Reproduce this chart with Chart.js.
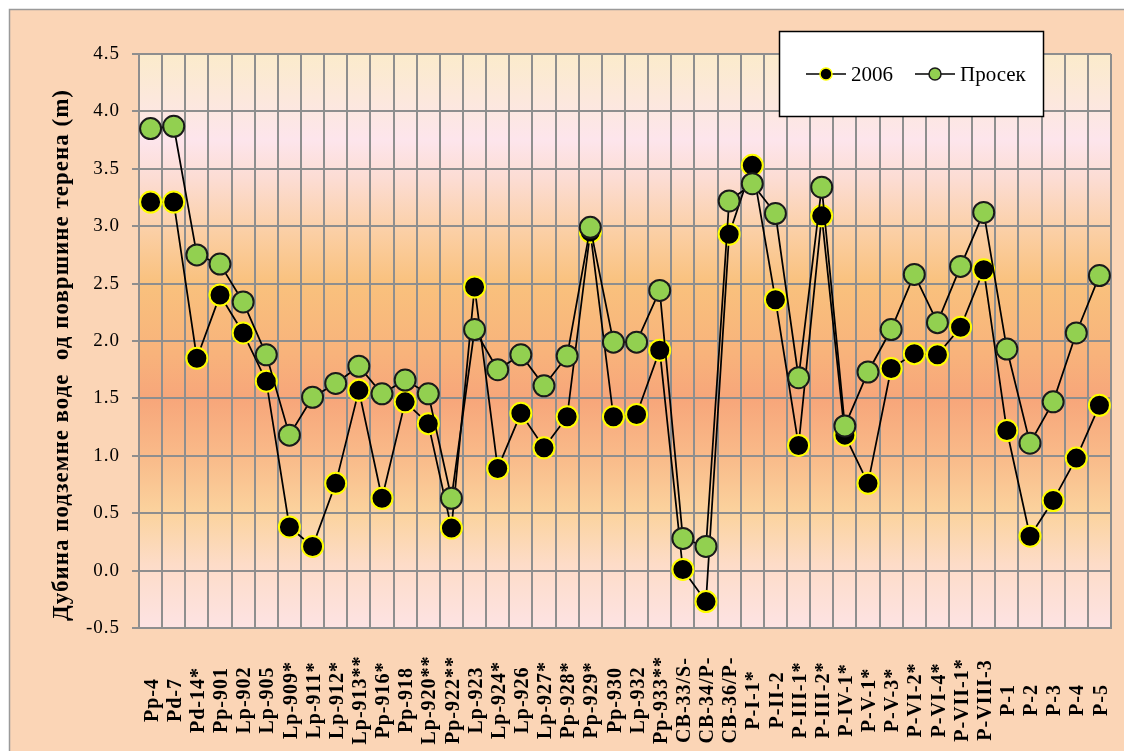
<!DOCTYPE html>
<html>
<head>
<meta charset="utf-8">
<script src="https://cdn.jsdelivr.net/npm/chart.js@4.4.1/dist/chart.umd.min.js"></script>
<style>
  html, body { margin: 0; padding: 0; background: #ffffff; }
  #wrap { width: 1124px; height: 751px; position: relative; }
</style>
</head>
<body>
<div id="wrap"><canvas id="chart" width="1124" height="751"></canvas></div>
<script>
// Observation wells (piezometers)
const wells = [
  'Pp-4', 'Pd-7', 'Pd-14*', 'Pp-901', 'Lp-902', 'Lp-905', 'Lp-909*', 'Lp-911*', 'Lp-912*',
  'Lp-913**', 'Pp-916*', 'Pp-918', 'Lp-920**', 'Pp-922**', 'Lp-923', 'Lp-924*', 'Lp-926',
  'Lp-927*', 'Pp-928*', 'Pp-929*', 'Pp-930', 'Lp-932', 'Pp-933**', 'CB-33/S-', 'CB-34/P-',
  'CB-36/P-', 'P-I-1*', 'P-II-2', 'P-III-1*', 'P-III-2*', 'P-IV-1*', 'P-V-1*', 'P-V-3*',
  'P-VI-2*', 'P-VI-4*', 'P-VII-1*', 'P-VIII-3', 'P-1', 'P-2', 'P-3', 'P-4', 'P-5'
];

// Groundwater depth below ground surface in 2006 (m)
const depth2006 = [
  3.21, 3.21, 1.85, 2.40, 2.07, 1.65, 0.38, 0.21, 0.76,
  1.57, 0.63, 1.47, 1.28, 0.37, 2.47, 0.89, 1.37,
  1.07, 1.34, 2.95, 1.34, 1.36, 1.92, 0.01, -0.27,
  2.93, 3.53, 2.36, 1.09, 3.09, 1.18, 0.76, 1.76,
  1.89, 1.88, 2.12, 2.62, 1.22, 0.30, 0.61, 0.98, 1.44
];

// Mean groundwater depth (m)
const depthMean = [
  3.85, 3.87, 2.75, 2.67, 2.34, 1.88, 1.18, 1.51, 1.63,
  1.78, 1.54, 1.66, 1.54, 0.63, 2.10, 1.75, 1.88,
  1.61, 1.87, 2.99, 1.99, 1.99, 2.44, 0.28, 0.21,
  3.22, 3.37, 3.11, 1.68, 3.34, 1.26, 1.73, 2.10,
  2.58, 2.16, 2.65, 3.12, 1.93, 1.11, 1.47, 2.07, 2.57
];

const seriesNames = ['2006', 'Просек'];
const yAxisTitle = 'Дубина подземне воде  од површине терена (m)';

const SERIF = '"Liberation Serif", "Times New Roman", serif';

// Page frame and the banded background behind the plot
const backdrop = {
  id: 'backdrop',
  beforeDraw(chart) {
    const { ctx, chartArea: a } = chart;
    ctx.save();
    ctx.fillStyle = '#ffffff';
    ctx.fillRect(0, 0, chart.width, chart.height);
    ctx.fillStyle = '#fbd5b6';
    ctx.fillRect(9, 9, chart.width, chart.height);
    ctx.strokeStyle = '#9a9a9a';
    ctx.lineWidth = 1.5;
    ctx.strokeRect(9.5, 9.5, chart.width + 10, chart.height + 10);

    const g = ctx.createLinearGradient(0, a.top, 0, a.bottom);
    g.addColorStop(0.00, '#fbebcb');
    g.addColorStop(0.15, '#fde5ec');
    g.addColorStop(0.22, '#fcdcd2');
    g.addColorStop(0.31, '#fbcfa5');
    g.addColorStop(0.40, '#f9c17d');
    g.addColorStop(0.52, '#f8b37b');
    g.addColorStop(0.60, '#f7a67a');
    g.addColorStop(0.70, '#f9ba89');
    g.addColorStop(0.80, '#fbd39e');
    g.addColorStop(0.89, '#fddcc8');
    g.addColorStop(1.00, '#fde3e3');
    ctx.fillStyle = g;
    ctx.fillRect(a.left, a.top, a.right - a.left, a.bottom - a.top);
    ctx.restore();
    // slightly spaced lettering for the axis numbers
    ctx.letterSpacing = '1px';
  }
};

// Rotated well names, axis title and the boxed legend
const annotations = {
  id: 'annotations',
  afterDraw(chart) {
    const { ctx } = chart;
    const xs = chart.scales.x;
    ctx.save();
    ctx.letterSpacing = '1px';
    ctx.fillStyle = '#000000';
    ctx.font = 'bold 20px ' + SERIF;
    ctx.textAlign = 'center';
    ctx.textBaseline = 'middle';
    xs.getLabels().forEach((name, i) => {
      const px = xs.getPixelForTick(i) + 2;
      ctx.save();
      ctx.translate(px, 700);
      ctx.rotate(-Math.PI / 2);
      ctx.fillText(name, 0, 0);
      ctx.restore();
    });

    ctx.font = 'bold 23px ' + SERIF;
    ctx.save();
    ctx.translate(62, 355);
    ctx.rotate(-Math.PI / 2);
    ctx.fillText(yAxisTitle, 0, 0);
    ctx.restore();

    // legend box
    ctx.letterSpacing = '0px';
    const bx = 779, by = 31, bw = 264, bh = 85;
    ctx.fillStyle = '#ffffff';
    ctx.fillRect(bx, by, bw, bh);
    ctx.strokeStyle = '#000000';
    ctx.lineWidth = 1.5;
    ctx.strokeRect(bx + 0.5, by + 0.5, bw, bh);

    const slots = [806, 915];
    const ly = 74;
    ctx.font = '21px ' + SERIF;
    ctx.textAlign = 'left';
    ctx.textBaseline = 'middle';
    chart.data.datasets.forEach((ds, i) => {
      const x0 = slots[i];
      ctx.strokeStyle = ds.borderColor;
      ctx.lineWidth = 1.5;
      ctx.beginPath();
      ctx.moveTo(x0, ly);
      ctx.lineTo(x0 + 40, ly);
      ctx.stroke();
      ctx.beginPath();
      ctx.arc(x0 + 20, ly, 6, 0, Math.PI * 2);
      ctx.fillStyle = ds.pointBackgroundColor;
      ctx.fill();
      ctx.lineWidth = 1.5;
      ctx.strokeStyle = ds.pointBorderColor;
      ctx.stroke();
      ctx.fillStyle = '#000000';
      ctx.fillText(ds.label, x0 + 45, ly + 1);
    });
    ctx.restore();
  }
};

const GRID = '#8e8e8e';

new Chart(document.getElementById('chart'), {
  type: 'line',
  data: {
    labels: wells,
    datasets: [
      {
        label: seriesNames[0],
        data: depth2006,
        borderColor: '#000000',
        borderWidth: 1.75,
        pointBackgroundColor: '#000000',
        pointBorderColor: '#ffff00',
        pointBorderWidth: 2,
        pointRadius: 10.5,
        tension: 0,
        order: 2
      },
      {
        label: seriesNames[1],
        data: depthMean,
        borderColor: '#000000',
        borderWidth: 1.75,
        pointBackgroundColor: '#92d050',
        pointBorderColor: '#1a1a1a',
        pointBorderWidth: 2,
        pointRadius: 10.5,
        tension: 0,
        order: 1
      }
    ]
  },
  options: {
    responsive: false,
    animation: false,
    devicePixelRatio: 1,
    layout: { padding: { top: 54, right: 13, left: 0, bottom: 0 } },
    plugins: {
      legend: { display: false },
      tooltip: { enabled: false }
    },
    scales: {
      x: {
        type: 'category',
        offset: true,
        grid: { color: GRID, lineWidth: 2, offset: true, drawTicks: false },
        border: { color: GRID, width: 2 },
        ticks: { display: false },
        afterFit(s) { s.height = 123; }
      },
      y: {
        min: -0.5,
        max: 4.5,
        ticks: {
          stepSize: 0.5,
          padding: 12,
          color: '#000000',
          font: { family: SERIF, size: 19 },
          callback: v => Number(v).toFixed(1)
        },
        grid: { color: GRID, lineWidth: 2, tickLength: 7 },
        border: { color: GRID, width: 2 },
        afterFit(s) { s.width = 139; }
      }
    }
  },
  plugins: [backdrop, annotations]
});
</script>
</body>
</html>
